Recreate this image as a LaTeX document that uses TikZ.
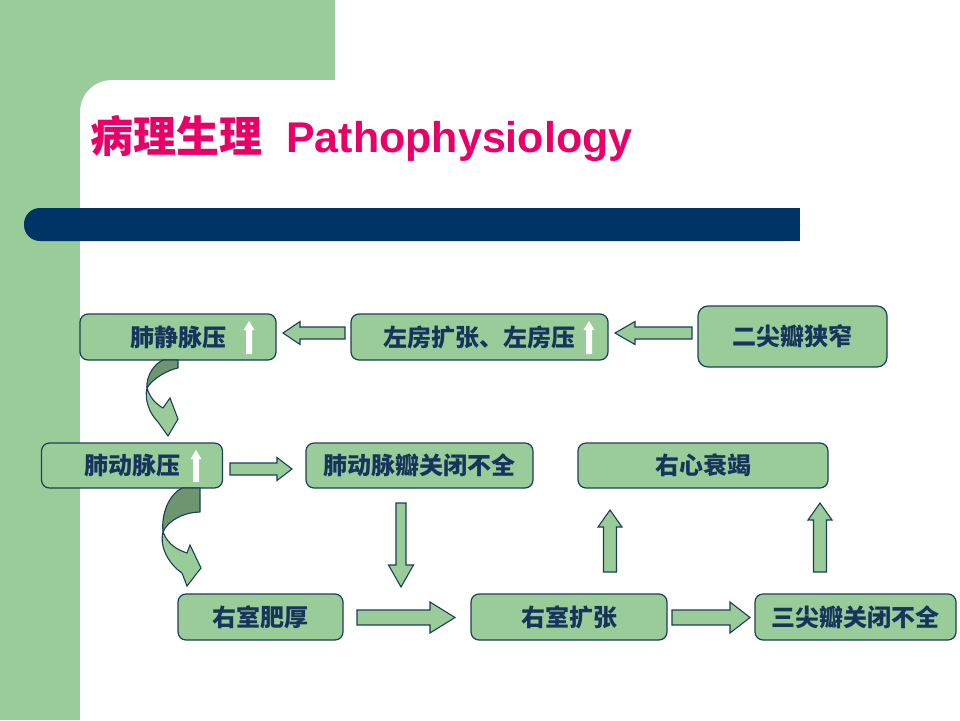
\documentclass[tikz,border=0pt]{standalone}
\usepackage{fontspec}
\setmainfont{Liberation Sans}
\newfontfamily\cjk{Noto Sans CJK SC}
\usetikzlibrary{calc}
\definecolor{bggreen}{RGB}{153,204,153}
\definecolor{boxgreen}{RGB}{153,204,153}
\definecolor{darkgreen}{RGB}{110,150,110}
\definecolor{navybar}{RGB}{0,51,102}
\definecolor{edgec}{RGB}{28,62,88}
\definecolor{txtc}{RGB}{22,52,92}
\definecolor{titlepink}{RGB}{232,0,104}
\tikzset{
  box/.style={draw=edgec, fill=boxgreen, line width=1.2pt, rounded corners=8pt,
    inner sep=0pt, text=txtc, font=\cjk\bfseries\fontsize{24}{24}\selectfont},
  barrow/.style={draw=edgec, fill=boxgreen, line width=1.1pt, line join=miter},
  warrow/.style={fill=white},
  curvdark/.style={draw=edgec, fill=darkgreen, line width=1.1pt, line join=round},
  curvlight/.style={draw=edgec, fill=boxgreen, line width=1.1pt, line join=miter},
}
\newcommand\barr[6][barrow]{%
  \coordinate (ba) at (#2); \coordinate (bt) at (#3);
  \coordinate (bh) at ($(bt)!#6!(ba)$);
  \path[#1] ($(ba)!#4!90:(bt)$) -- ($(bh)!#4!-90:(ba)$) -- ($(bh)!#5!-90:(ba)$) -- (bt)
    -- ($(bh)!#5!90:(ba)$) -- ($(bh)!#4!90:(ba)$) -- ($(ba)!#4!-90:(bt)$) -- cycle;}
\begin{document}
\begin{tikzpicture}[x=1pt,y=-1pt]
\useasboundingbox (0,0) rectangle (960,720);
\clip (0,0) rectangle (960,720);
% background
\fill[white] (0,0) rectangle (960,720);
\fill[bggreen] (0,0) rectangle (335,80);
\fill[bggreen] (0,0) rectangle (80,720);
\fill[bggreen] (79,79) -- (112,79) -- (112,80) .. controls (94,80) and (80,94) .. (80,112) -- (79,112) -- cycle;
\fill[navybar, rounded corners=16pt] (24,208) rectangle (800,241);
\fill[navybar] (760,208) rectangle (800,241);
% title
\node[anchor=base west, text=titlepink, font=\bfseries\fontsize{43}{43}\selectfont, inner sep=0pt]
  (title) at (90,152) {{\cjk 病理生理}\ \ Pathophysiology};
% boxes
\node[box, minimum width=196pt, minimum height=46pt] (b1) at (178,337) {肺静脉压};
\node[box, minimum width=257pt, minimum height=46pt] (b2) at (479.5,337) {左房扩张、左房压};
\node[box, minimum width=189pt, minimum height=61pt, rounded corners=10pt] (b3) at (792.5,336.5) {二尖瓣狭窄};
\node[box, minimum width=181pt, minimum height=45pt] (b4) at (132,465.5) {肺动脉压};
\node[box, minimum width=227pt, minimum height=45pt] (b5) at (419.5,465.5) {肺动脉瓣关闭不全};
\node[box, minimum width=250pt, minimum height=45pt] (b6) at (703,465.5) {右心衰竭};
\node[box, minimum width=165pt, minimum height=46pt] (b7) at (260.5,617) {右室肥厚};
\node[box, minimum width=196pt, minimum height=46pt] (b8) at (569,617) {右室扩张};
\node[box, minimum width=201pt, minimum height=46pt] (b9) at (855.5,617) {三尖瓣关闭不全};
% white up arrows inside boxes
\barr[warrow]{249,354}{249,321}{3pt}{5.5pt}{9pt}
\barr[warrow]{589,354}{589,321}{3pt}{5.5pt}{9pt}
\barr[warrow]{196,482}{196,450}{3pt}{5.5pt}{9pt}
% block arrows
\barr{345,333}{283,333}{6pt}{11.5pt}{17pt}
\barr{692,333}{615,333}{6pt}{11.5pt}{20pt}
\barr{230,469}{292,469}{6pt}{11.5pt}{15pt}
\barr{401,503}{401,587}{5pt}{12.5pt}{22pt}
\barr{610,572}{610,510}{6.5pt}{12pt}{17pt}
\barr{820,572}{820,503}{6.5pt}{12pt}{17pt}
\barr{357,617.5}{455,617.5}{7.5pt}{15.5pt}{25pt}
\barr{672,617.5}{750,617.5}{7.5pt}{15.5pt}{20pt}
% curved arrow 1
\path[curvlight] (147,388) .. controls (150,398) and (156,404) .. (163,408) -- (170,398) -- (178,419)
  -- (168,436) -- (158,422) .. controls (150,414) and (144,400) .. (147,388) -- cycle;
\path[curvdark] (163,360) -- (178,360) -- (178,368) .. controls (168,370) and (153,378) .. (147,388)
  .. controls (146,376) and (154,364) .. (163,360) -- cycle;
% curved arrow 2
\path[curvlight] (163,532) .. controls (168,545) and (178,550) .. (187,553) -- (190,545) -- (201,568)
  -- (187,586) -- (182,573) .. controls (170,565) and (159,548) .. (163,532) -- cycle;
\path[curvdark] (182,488) -- (200,488) -- (200,512) .. controls (185,512) and (168,520) .. (163,532)
  .. controls (161,512) and (170,494) .. (182,488) -- cycle;
\end{tikzpicture}
\end{document}
